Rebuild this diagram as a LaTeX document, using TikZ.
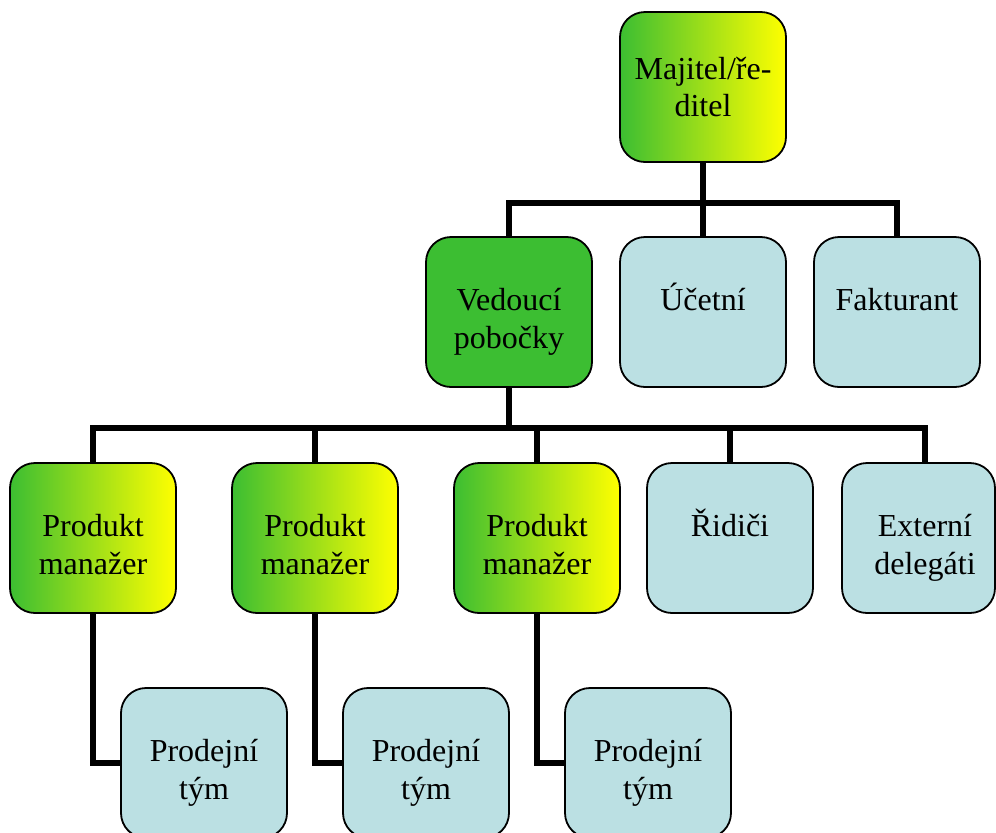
\documentclass[tikz,border=0pt]{standalone}
\usepackage{fontspec}
\setmainfont{Liberation Serif}
\usetikzlibrary{positioning}

\definecolor{boxgreen}{RGB}{60,190,50}
\definecolor{boxmid}{RGB}{200,228,35}
\definecolor{boxyellow}{RGB}{255,255,0}
\definecolor{boxblue}{RGB}{187,224,227}

\newcommand{\tallstrut}{\rule{0pt}{16pt}}

\tikzset{
  orgbox/.style={draw, line width=0.9pt, rounded corners=12.5pt, minimum width=83pt, minimum height=75pt,
    align=center, font=\fontsize{16}{18.75}\selectfont, inner sep=2pt},
  gradbox/.style={orgbox, left color=boxgreen, middle color=boxmid, right color=boxyellow},
  greenbox/.style={orgbox, fill=boxgreen},
  bluebox/.style={orgbox, fill=boxblue},
  boxtext/.style={anchor=north, align=center, inner sep=0pt, font=\fontsize{16}{19}\selectfont},
  link/.style={line width=3pt}
}

\begin{document}
\begin{tikzpicture}[x=0.5pt, y=-0.5pt]
    \useasboundingbox (0,0) rectangle (996,832);
    \clip (0,0) rectangle (996,832);

    \coordinate (bar1) at (509, 203);
    \coordinate (bar2) at (93, 428);

    % Top levels
    \node[gradbox] (owner) at (703, 87) {Majitel/ře-\\ditel};
    \node[greenbox] (branch) at (509, 312) {};
    \node[bluebox] (acct) at (703, 312) {};
    \node[bluebox] (bill) at (897, 312) {};
    \node[boxtext] (branch-t) at ([yshift=-21pt]branch.north) {\tallstrut Vedoucí\\pobočky};
    \node[boxtext] (acct-t) at ([yshift=-21pt]acct.north) {\tallstrut Účetní};
    \node[boxtext] (bill-t) at ([yshift=-21pt]bill.north) {\tallstrut Fakturant};

    % Product managers and sales teams
    \foreach \x/\t [count=\i] in {93/204, 315/426, 537/648} {
        \node[gradbox] (pm\i) at (\x, 538) {};
        \node[boxtext] (pm\i-t) at ([yshift=-21pt]pm\i.north) {\tallstrut Produkt\\manažer};
        \node[bluebox] (team\i) at (\t, 763) {};
        \node[boxtext] (team\i-t) at ([yshift=-21pt]team\i.north) {\tallstrut Prodejní\\tým};
      }
    \node[bluebox] (drivers) at (730, 538) {};
    \node[bluebox, minimum width=76.5pt] (ext) at (918.5, 538) {};
    \node[boxtext] (drivers-t) at ([yshift=-21pt]drivers.north) {\tallstrut Řidiči};
    \node[boxtext] (ext-t) at ([xshift=3.25pt, yshift=-21pt]ext.north) {\tallstrut Externí\\delegáti};

    % Connectors
    \draw[link] (owner.south) -- (owner.south |- bar1);
    \draw[link] (branch.north) |- (bar1) -| (bill.north);
    \draw[link] (bar1 -| acct.north) -- (acct.north);
    \draw[link] (branch.south) -- (branch.south |- bar2);
    \draw[link] (pm1.north) |- (bar2) -| ([xshift=3.25pt]ext.north);
    \foreach \n in {pm2, pm3, drivers} {
        \draw[link] (bar2 -| \n.north) -- (\n.north);
      }
    \foreach \i in {1,2,3} {
        \draw[link] (pm\i.south) |- (team\i.west);
      }
  \end{tikzpicture}
\end{document}
